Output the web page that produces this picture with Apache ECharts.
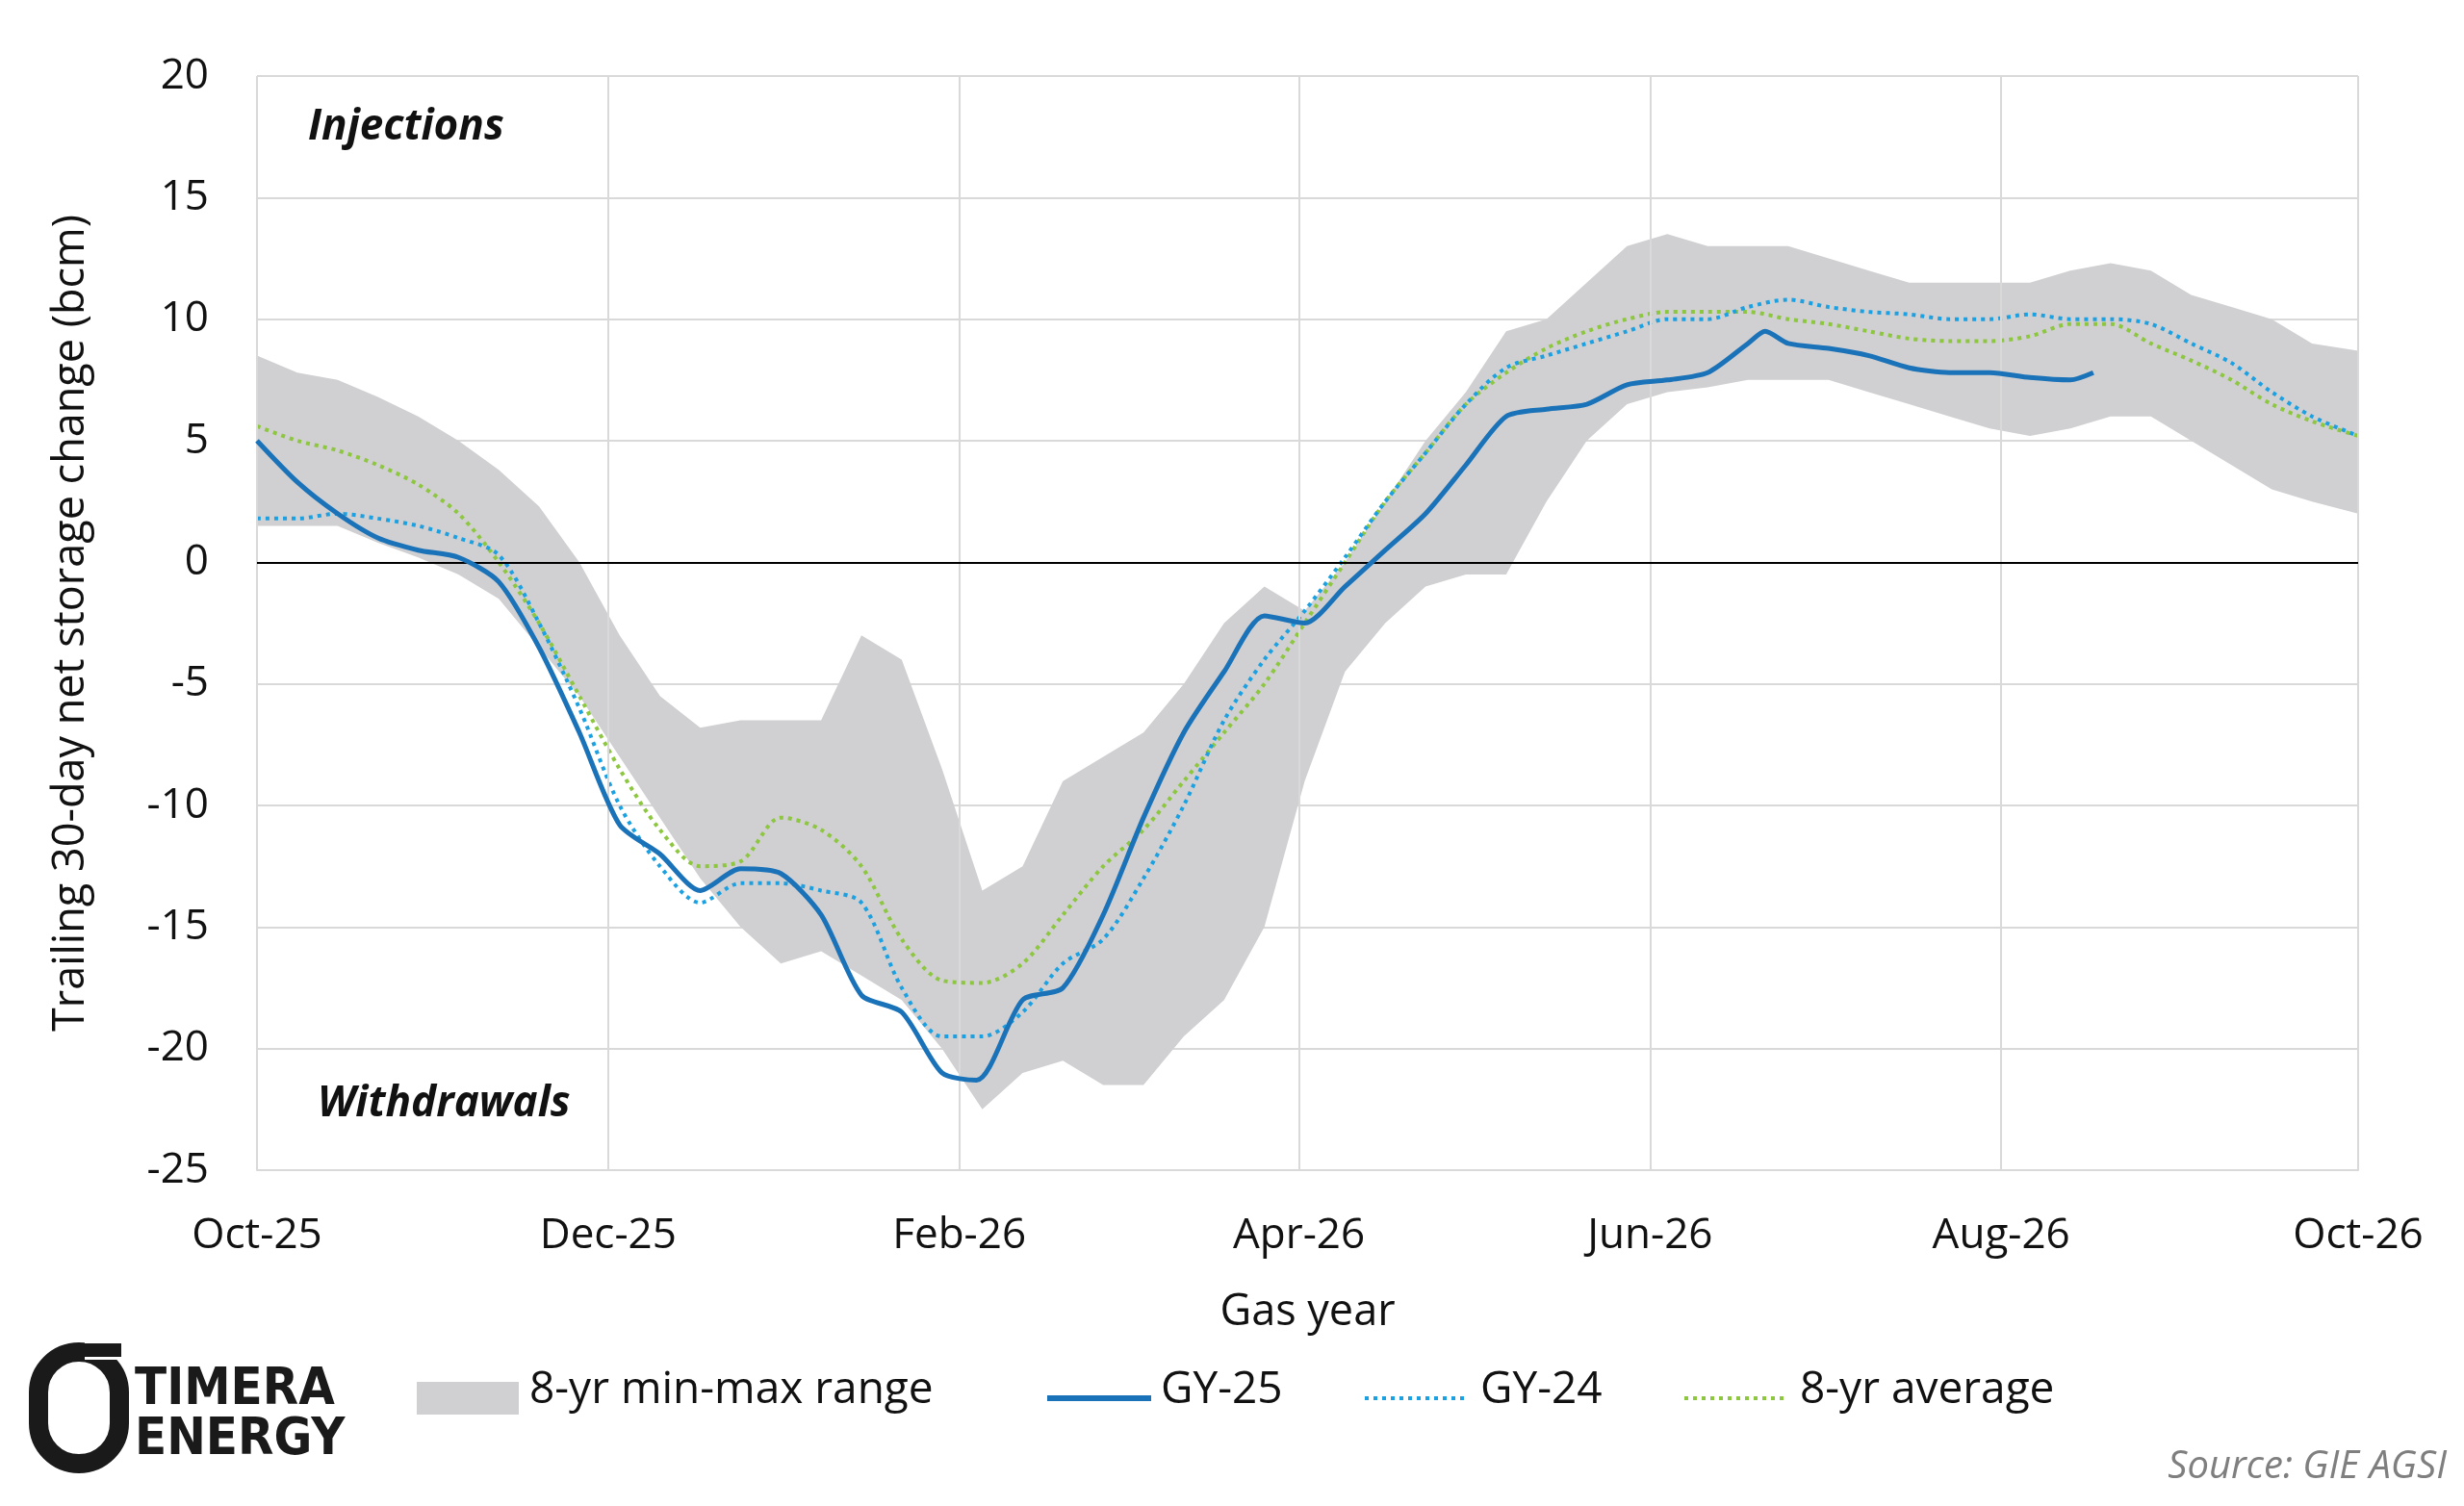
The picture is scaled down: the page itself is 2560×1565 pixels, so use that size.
<!DOCTYPE html>
<html><head><meta charset="utf-8">
<script src="https://cdn.jsdelivr.net/npm/echarts@6/dist/echarts.min.js"></script>
<style>html,body{margin:0;padding:0;background:#fff}#c{width:2560px;height:1565px}</style>
</head><body><div id="c"></div>
<script>
const days = [0,7,14,21,28,35,42,49,56,63,70,77,84,91,98,105,112,119,126,133,140,147,154,161,168,175,182,189,196,203,210,217,224,231,238,245,252,259,266,273,280,287,294,301,308,315,322,329,336,343,350,357,365];
const tickDays = [0,61,122,181,242,303,365];
const tickLabels = ['Oct-25','Dec-25','Feb-26','Apr-26','Jun-26','Aug-26','Oct-26'];
const rangeMax = [8.5,7.8,7.5,6.8,6.0,5.0,3.8,2.3,0.0,-3.0,-5.5,-6.8,-6.5,-6.5,-6.5,-3.0,-4.0,-8.5,-13.5,-12.5,-9.0,-8.0,-7.0,-5.0,-2.5,-1.0,-2.0,0.0,2.5,5.0,7.0,9.5,10.0,11.5,13.0,13.5,13.0,13.0,13.0,12.5,12.0,11.5,11.5,11.5,11.5,12.0,12.3,12.0,11.0,10.5,10.0,9.0,8.7];
const rangeMin = [1.5,1.5,1.5,0.8,0.2,-0.5,-1.5,-3.5,-5.5,-8.0,-10.5,-13.0,-15.0,-16.5,-16.0,-17.0,-18.0,-20.0,-22.5,-21.0,-20.5,-21.5,-21.5,-19.5,-18.0,-15.0,-9.0,-4.5,-2.5,-1.0,-0.5,-0.5,2.5,5.0,6.5,7.0,7.2,7.5,7.5,7.5,7.0,6.5,6.0,5.5,5.2,5.5,6.0,6.0,5.0,4.0,3.0,2.5,2.0];
const gy25Days = [0,7,14,21,28,35,42,49,56,63,70,77,84,91,98,105,112,119,125,133,140,147,154,161,168,175,182,189,196,203,210,217,224,231,238,245,252,259,262,266,273,280,287,294,301,308,315,319];
const gy25 = [5.0,3.3,2.0,1.0,0.5,0.2,-0.8,-3.5,-7.0,-10.8,-12.0,-13.5,-12.6,-12.8,-14.5,-17.8,-18.5,-21.0,-21.3,-18.0,-17.5,-14.5,-10.5,-7.0,-4.5,-2.2,-2.5,-1.0,0.5,2.0,4.0,6.0,6.3,6.5,7.3,7.5,7.8,9.0,9.5,9.0,8.8,8.5,8.0,7.8,7.8,7.6,7.5,7.8];
const gy24 = [1.8,1.8,2.0,1.8,1.5,1.0,0.3,-2.5,-6.0,-10.0,-12.5,-14.0,-13.2,-13.2,-13.5,-14.0,-17.5,-19.5,-19.5,-18.5,-16.5,-15.5,-13.0,-10.0,-6.5,-4.0,-2.0,0.2,2.5,4.5,6.5,8.0,8.5,9.0,9.5,10.0,10.0,10.5,10.8,10.5,10.3,10.2,10.0,10.0,10.2,10.0,10.0,9.8,9.0,8.2,7.0,6.0,5.2];
const avg8 = [5.6,5.0,4.6,4.0,3.2,2.0,0.0,-2.5,-5.5,-8.5,-11.0,-12.5,-12.3,-10.5,-11.0,-12.5,-15.5,-17.2,-17.3,-16.5,-14.5,-12.5,-11.0,-9.0,-7.0,-5.0,-2.5,0.0,2.5,4.5,6.5,7.8,8.8,9.5,10.0,10.3,10.3,10.3,10.0,9.8,9.5,9.2,9.1,9.1,9.3,9.8,9.8,9.0,8.3,7.5,6.5,5.8,5.2];

const F = 'Open Sans';
const zip = (xs, ys) => xs.map((x,i)=>[x, ys[i]]);
const chart = echarts.init(document.getElementById('c'));
chart.setOption({
  animation:false,
  textStyle:{fontFamily:F},
  grid:{left:267,right:110,top:79,bottom:349},
  xAxis:{type:'value',min:0,max:365,
    name:'Gas year',nameLocation:'middle',nameGap:126,nameTextStyle:{fontSize:45,color:'#111',fontFamily:F},
    axisLine:{onZero:false,lineStyle:{color:'#d9d9d9',width:2}},axisTick:{show:false},
    splitLine:{show:false},
    axisLabel:{customValues:tickDays,formatter:v=>tickLabels[tickDays.indexOf(v)]||'',fontSize:44,color:'#111',margin:46,fontFamily:F}},
  yAxis:{type:'value',min:-25,max:20,interval:5,
    name:'Trailing 30-day net storage change (bcm)',nameLocation:'middle',nameGap:170,nameTextStyle:{fontSize:45,color:'#111',fontFamily:F},
    axisLine:{show:false},axisTick:{show:false},
    splitLine:{lineStyle:{color:'#d9d9d9',width:2}},
    axisLabel:{fontSize:44,color:'#111',margin:50,fontFamily:F}},
  series:[
    {type:'custom',name:'8-yr min-max range',data:days.map((d,i)=>[d,rangeMin[i],rangeMax[i]]),z:1,silent:true,
      renderItem:(params,api)=>{
        if(params.dataIndex!==0) return null;
        const top = days.map((d,i)=>api.coord([d,rangeMax[i]]));
        const bot = days.map((d,i)=>api.coord([d,rangeMin[i]])).reverse();
        return {type:'polygon',shape:{points:top.concat(bot)},style:{fill:'#d0cfd1'}};
      },
      encode:{x:0,y:[1,2]}},
    {type:'line',name:'grid',data:[],markLine:{symbol:'none',silent:true,label:{show:false},
        data:[...tickDays.map(d=>({xAxis:d,lineStyle:{color:'#d9d9d9',width:2,type:'solid'}})),{yAxis:0,lineStyle:{color:'#000',width:2,type:'solid'}}]},z:0},
    {type:'line',name:'8-yr average',data:zip(days,avg8),smooth:0.3,symbol:'none',lineStyle:{color:'#8dc63f',width:4,type:[4,5]},z:3},
    {type:'line',name:'GY-24',data:zip(days,gy24),smooth:0.3,symbol:'none',lineStyle:{color:'#1ba1e2',width:4,type:[4,5]},z:4},
    {type:'line',name:'GY-25',data:zip(gy25Days,gy25),smooth:0.25,symbol:'none',lineStyle:{color:'#1a72b8',width:5},z:5}
  ],
  graphic:[
    {type:'text',left:320,top:110,z:10,style:{text:'Injections',font:'italic bold 44px "Open Sans"',fill:'#111'}},
    {type:'text',left:330,top:1125,z:10,style:{text:'Withdrawals',font:'italic bold 44px "Open Sans"',fill:'#111'}},
    {type:'rect',shape:{x:433,y:1436,width:106,height:34},style:{fill:'#d0cfd1'}},
    {type:'text',left:550,top:1422,style:{text:'8-yr min-max range',font:'46px "Open Sans"',fill:'#111'}},
    {type:'line',shape:{x1:1088,y1:1453,x2:1196,y2:1453},style:{stroke:'#1a72b8',lineWidth:6}},
    {type:'text',left:1206,top:1422,style:{text:'GY-25',font:'46px "Open Sans"',fill:'#111'}},
    {type:'line',shape:{x1:1418,y1:1453,x2:1526,y2:1453},style:{stroke:'#1ba1e2',lineWidth:4,lineDash:[4,5]}},
    {type:'text',left:1538,top:1422,style:{text:'GY-24',font:'46px "Open Sans"',fill:'#111'}},
    {type:'line',shape:{x1:1750,y1:1453,x2:1858,y2:1453},style:{stroke:'#8dc63f',lineWidth:4,lineDash:[4,5]}},
    {type:'text',left:1870,top:1422,style:{text:'8-yr average',font:'46px "Open Sans"',fill:'#111'}},
    {type:'text',right:18,top:1505,style:{text:'Source: GIE AGSI',font:'italic 40px "Open Sans"',fill:'#7f7f7f'}},
    {type:'rect',shape:{x:40,y:1405,width:84,height:116,r:[42,42,42,42]},style:{fill:'none',stroke:'#1a1a1a',lineWidth:20}},
    {type:'rect',shape:{x:88,y:1395,width:36,height:18},style:{fill:'#fff'}},
    {type:'rect',shape:{x:86,y:1396,width:40,height:14},style:{fill:'#1a1a1a'}},
    {type:'text',left:140,top:1418,style:{text:'TIMERA',font:'bold 54px "DejaVu Sans Condensed"',fill:'#1a1a1a'}},
    {type:'text',left:140,top:1470,style:{text:'ENERGY',font:'bold 54px "DejaVu Sans Condensed"',fill:'#1a1a1a'}}
  ]
});
</script></body></html>
